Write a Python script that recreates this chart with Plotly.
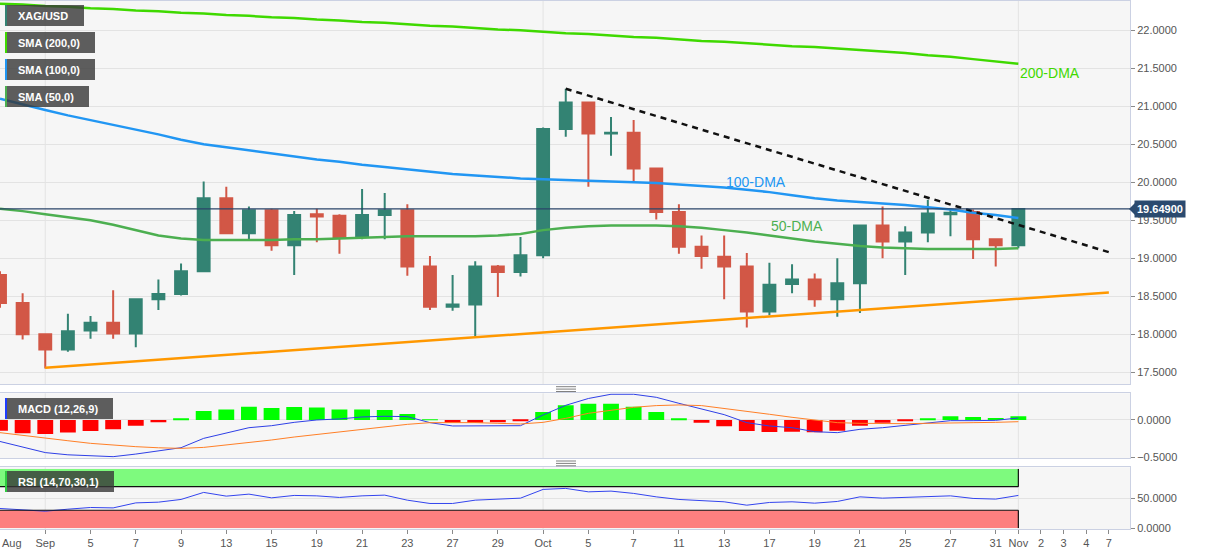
import plotly.graph_objects as go

# ---------------- DATA ----------------
dates = ["2022-08-30", "2022-08-31", "2022-09-01", "2022-09-02", "2022-09-05", "2022-09-06", "2022-09-07",
         "2022-09-08", "2022-09-09", "2022-09-12", "2022-09-13", "2022-09-14", "2022-09-15", "2022-09-16",
         "2022-09-19", "2022-09-20", "2022-09-21", "2022-09-22", "2022-09-23", "2022-09-26", "2022-09-27",
         "2022-09-28", "2022-09-29", "2022-09-30", "2022-10-03", "2022-10-04", "2022-10-05", "2022-10-06",
         "2022-10-07", "2022-10-10", "2022-10-11", "2022-10-12", "2022-10-13", "2022-10-14", "2022-10-17",
         "2022-10-18", "2022-10-19", "2022-10-20", "2022-10-21", "2022-10-24", "2022-10-25", "2022-10-26",
         "2022-10-27", "2022-10-28", "2022-10-31", "2022-11-01"]
future_dates = ["2022-11-02", "2022-11-03", "2022-11-04", "2022-11-07"]

open_ = [18.78, 18.41, 18.00, 17.80, 18.05, 18.15, 18.01, 18.46, 18.53, 18.83,
         19.79, 19.33, 19.63, 19.17, 19.58, 19.56, 19.28, 19.57, 19.63, 18.89,
         18.36, 18.39, 18.89, 18.82, 19.04, 20.70, 21.05, 20.64, 20.65, 20.18,
         19.61, 19.15, 19.02, 18.89, 18.30, 18.66, 18.72, 18.46, 18.67, 19.43,
         19.22, 19.34, 19.58, 19.61, 19.25, 19.17]
high = [18.83, 18.54, 18.00, 18.27, 18.24, 18.58, 18.47, 18.72, 18.93, 20.01,
        19.94, 19.68, 19.65, 19.62, 19.65, 19.58, 19.91, 19.86, 19.71, 19.03,
        18.78, 18.96, 18.91, 19.28, 20.72, 21.23, 21.06, 20.86, 20.82, 20.19,
        19.71, 19.30, 19.30, 19.07, 18.94, 18.92, 18.80, 19.00, 19.44, 19.68,
        19.42, 19.77, 19.65, 19.64, 19.25, 19.65]
low = [18.35, 17.93, 17.55, 17.77, 17.94, 17.94, 17.83, 18.32, 18.51, 18.82,
       19.32, 19.23, 19.10, 18.78, 19.21, 19.06, 19.25, 19.25, 18.77, 18.32,
       18.31, 17.97, 18.49, 18.76, 19.00, 20.60, 19.94, 20.35, 20.00, 19.51,
       19.06, 18.86, 18.46, 18.09, 18.25, 18.54, 18.36, 18.23, 18.28, 19.00,
       18.78, 19.21, 19.29, 18.99, 18.89, 19.13]
close = [18.41, 18.00, 17.80, 18.04, 18.15, 18.01, 18.46, 18.53, 18.83, 19.79,
         19.33, 19.63, 19.17, 19.57, 19.55, 19.28, 19.57, 19.63, 18.89, 18.36,
         18.39, 18.89, 18.82, 19.04, 20.70, 21.05, 20.64, 20.65, 20.18, 19.61,
         19.15, 19.03, 18.89, 18.30, 18.65, 18.72, 18.46, 18.67, 19.43, 19.22,
         19.34, 19.59, 19.60, 19.25, 19.17, 19.649]

sma200 = [22.35, 22.34, 22.32, 22.31, 22.29, 22.28, 22.26, 22.25, 22.23, 22.22,
          22.20, 22.19, 22.17, 22.16, 22.14, 22.13, 22.11, 22.10, 22.08, 22.06,
          22.05, 22.03, 22.01, 22.00, 21.98, 21.96, 21.95, 21.93, 21.91, 21.90,
          21.88, 21.86, 21.85, 21.83, 21.81, 21.79, 21.78, 21.76, 21.74, 21.72,
          21.70, 21.67, 21.65, 21.62, 21.59, 21.56]
sma100 = [21.10, 21.02, 20.95, 20.88, 20.82, 20.75, 20.69, 20.63, 20.56, 20.50,
          20.46, 20.42, 20.38, 20.34, 20.30, 20.27, 20.23, 20.20, 20.17, 20.14,
          20.11, 20.09, 20.07, 20.05, 20.04, 20.03, 20.02, 20.01, 20.00, 19.99,
          19.97, 19.95, 19.93, 19.90, 19.87, 19.83, 19.79, 19.76, 19.74, 19.72,
          19.70, 19.67, 19.64, 19.60, 19.57, 19.53]
sma50 = [19.65, 19.62, 19.58, 19.54, 19.50, 19.44, 19.37, 19.30, 19.26, 19.24,
         19.24, 19.24, 19.24, 19.25, 19.25, 19.26, 19.27, 19.28, 19.29, 19.29,
         19.29, 19.29, 19.30, 19.32, 19.37, 19.40, 19.42, 19.43, 19.43, 19.43,
         19.42, 19.40, 19.37, 19.34, 19.30, 19.26, 19.22, 19.19, 19.16, 19.14,
         19.13, 19.12, 19.12, 19.12, 19.12, 19.13]

# trend lines: (date, value)
support_dates = ["2022-09-01", "2022-11-07"]
support_vals = [17.56, 18.55]
resist_dates = ["2022-10-04", "2022-11-07"]
resist_vals = [21.23, 19.08]

macd_hist = [-0.144, -0.18, -0.19, -0.17, -0.15, -0.126, -0.077, -0.032, 0.02, 0.12,
             0.14, 0.18, 0.16, 0.175, 0.17, 0.14, 0.14, 0.135, 0.08, 0.005,
             -0.036, -0.036, -0.032, -0.014, 0.108, 0.198, 0.22, 0.22, 0.18, 0.108,
             0.02, -0.036, -0.086, -0.149, -0.162, -0.158, -0.167, -0.144, -0.077, -0.036,
             -0.009, 0.022, 0.049, 0.04, 0.027, 0.049]
macd_line = [-0.29, -0.37, -0.44, -0.47, -0.485, -0.495, -0.46, -0.42, -0.374, -0.248,
             -0.171, -0.104, -0.077, -0.032, 0.0, 0.014, 0.041, 0.05, 0.045, -0.036,
             -0.081, -0.081, -0.086, -0.077, 0.068, 0.198, 0.29, 0.347, 0.347, 0.306,
             0.225, 0.144, 0.072, -0.036, -0.081, -0.104, -0.158, -0.171, -0.126, -0.104,
             -0.072, -0.036, -0.009, -0.009, -0.005, 0.027]
macd_signal = [-0.171, -0.21, -0.248, -0.28, -0.315, -0.34, -0.36, -0.375, -0.383, -0.37,
               -0.338, -0.305, -0.27, -0.23, -0.194, -0.158, -0.122, -0.09, -0.059, -0.036,
               -0.032, -0.036, -0.045, -0.054, -0.032, 0.022, 0.09, 0.135, 0.171, 0.194,
               0.203, 0.194, 0.158, 0.122, 0.077, 0.036, 0.0, -0.036, -0.045, -0.05,
               -0.05, -0.045, -0.036, -0.036, -0.032, -0.023]
rsi = [33.0, 30.1, 28.4, 31.8, 34.7, 34.0, 42.5, 43.7, 48.3, 60.2,
       53.9, 57.3, 51.0, 55.1, 54.4, 51.7, 54.4, 55.6, 47.1, 41.5,
       41.5, 47.1, 48.3, 50.5, 65.3, 67.0, 61.2, 62.4, 58.5, 52.7,
       48.3, 46.0, 44.3, 38.6, 43.2, 44.3, 42.0, 44.9, 52.7, 50.5,
       51.7, 53.9, 54.4, 50.0, 48.9, 55.1]
rsi_upper, rsi_lower = 70, 30

tick_dates = ["2022-09-01", "2022-09-05", "2022-09-07", "2022-09-09", "2022-09-13", "2022-09-15",
              "2022-09-19", "2022-09-21", "2022-09-23", "2022-09-27", "2022-09-29", "2022-10-03",
              "2022-10-05", "2022-10-07", "2022-10-11", "2022-10-13", "2022-10-17", "2022-10-19",
              "2022-10-21", "2022-10-25", "2022-10-27", "2022-10-31", "2022-11-01", "2022-11-02",
              "2022-11-03", "2022-11-04", "2022-11-07"]
tick_labels = ["Sep", "5", "7", "9", "13", "15", "19", "21", "23", "27", "29", "Oct",
               "5", "7", "11", "13", "17", "19", "21", "25", "27", "31", "Nov", "2", "3", "4", "7"]
first_label = "Aug"
month_starts = ["2022-09-01", "2022-10-03", "2022-11-01"]

# ---------------- HELPERS ----------------
all_dates = dates + future_dates
pos = {d: i for i, d in enumerate(all_dates)}
xi = [pos[d] for d in dates]

FONT = "Liberation Sans, Arial, sans-serif"
W, H = 1207, 555
PL, PR, PT, PB = 0, 1130, 1, 529  # plot area in px
Y_MAIN = [17.345, 22.385]


def px_x(px):
    return (px - PL) / (PR - PL)


def px_y(py):
    return (PB - py) / (PB - PT)


GREEN_C = "#338373"
RED_C = "#D25746"
C200 = "#3FD900"
C100 = "#2196F3"
C50 = "#4CAF50"
BORDER = "#CBD1E3"
GRID = "#E3E3E3"

fig = go.Figure()

# main candles
fig.add_trace(go.Candlestick(
    x=xi, open=open_, high=high, low=low, close=close,
    increasing=dict(line=dict(color=GREEN_C, width=2), fillcolor=GREEN_C),
    decreasing=dict(line=dict(color=RED_C, width=2), fillcolor=RED_C),
    xaxis="x", yaxis="y", showlegend=False, hoverinfo="skip"))

for vals, col in [(sma200, C200), (sma100, C100), (sma50, C50)]:
    fig.add_trace(go.Scatter(x=xi, y=vals, mode="lines", line=dict(color=col, width=2.5),
                             xaxis="x", yaxis="y", showlegend=False, hoverinfo="skip"))

fig.add_trace(go.Scatter(x=[pos[d] for d in support_dates], y=support_vals, mode="lines",
                         line=dict(color="#FF9800", width=2.5), xaxis="x", yaxis="y",
                         showlegend=False, hoverinfo="skip"))
fig.add_trace(go.Scatter(x=[pos[d] for d in resist_dates], y=resist_vals, mode="lines",
                         line=dict(color="#111111", width=2.5, dash="6px,5px"), xaxis="x", yaxis="y",
                         showlegend=False, hoverinfo="skip"))

# MACD panel
fig.add_trace(go.Bar(x=xi, y=macd_hist, width=0.7,
                     marker=dict(color=["#00FF00" if v >= 0 else "#FF0000" for v in macd_hist],
                                 line=dict(width=0)),
                     xaxis="x2", yaxis="y2", showlegend=False, hoverinfo="skip"))
fig.add_trace(go.Scatter(x=xi, y=macd_line, mode="lines", line=dict(color="#2E3FE6", width=1),
                         xaxis="x2", yaxis="y2", showlegend=False, hoverinfo="skip"))
fig.add_trace(go.Scatter(x=xi, y=macd_signal, mode="lines", line=dict(color="#FF7F27", width=1),
                         xaxis="x2", yaxis="y2", showlegend=False, hoverinfo="skip"))

# RSI panel
fig.add_trace(go.Scatter(x=xi, y=rsi, mode="lines", line=dict(color="#3344EE", width=1),
                         xaxis="x3", yaxis="y3", showlegend=False, hoverinfo="skip"))

xrange = [0, (PR - PL) / 22.63]
dom_main = [px_y(384), 1.0]
dom_macd = [px_y(458), px_y(393.3)]
dom_rsi = [0.0, px_y(467.3)]

ax_common = dict(range=xrange, showgrid=False, zeroline=False, showline=True, mirror=True,
                 linecolor=BORDER, linewidth=1, fixedrange=True)
ay_common = dict(side="right", showline=True, mirror=True, linecolor=BORDER, linewidth=1,
                 gridcolor=GRID, zeroline=False, ticks="outside", ticklen=4, tickcolor="#8a8a8a",
                 tickformat=".4f", tickfont=dict(family=FONT, size=11, color="#555555"))

shapes = []
annotations = []

# month gridlines in all panels
for d in month_starts:
    for xr, yr in [("x", "y domain"), ("x2", "y2 domain"), ("x3", "y3 domain")]:
        shapes.append(dict(type="line", xref=xr, yref=yr, x0=pos[d], x1=pos[d], y0=0, y1=1,
                           line=dict(color=GRID, width=1), layer="below"))

# RSI bands
last = xi[-1]
shapes.append(dict(type="rect", xref="x3", yref="y3", x0=0, x1=last, y0=rsi_upper, y1=100,
                   fillcolor="#7EFA7E", line=dict(width=0), layer="below"))
shapes.append(dict(type="rect", xref="x3", yref="y3", x0=0, x1=last, y0=0, y1=rsi_lower,
                   fillcolor="#FD7F7F", line=dict(width=0), layer="below"))
for (a0, a1, b0, b1) in [(0, last, rsi_upper, rsi_upper), (0, last, rsi_lower, rsi_lower),
                         (last, last, rsi_upper, 100), (last, last, 0, rsi_lower)]:
    shapes.append(dict(type="line", xref="x3", yref="y3", x0=a0, x1=a1, y0=b0, y1=b1,
                       line=dict(color="#111111", width=1.2)))

# current price line
shapes.append(dict(type="line", xref="x domain", yref="y", x0=0, x1=1, y0=close[-1], y1=close[-1],
                   line=dict(color="#2A4468", width=1.2)))

# label boxes (top-left)
boxes = [("XAG/USD", 5, 84, 5, 26, GREEN_C),
         ("SMA (200,0)", 5, 95, 32, 53, C200),
         ("SMA (100,0)", 5, 95, 59, 80, C100),
         ("SMA (50,0)", 5, 89, 86, 107, C50),
         ("MACD (12,26,9)", 5, 113, 398, 419, "#1E3CFF"),
         ("RSI (14,70,30,1)", 5, 114, 471, 492, "#2ECC40")]
for text, x0, x1, y0, y1, sc in boxes:
    shapes.append(dict(type="rect", xref="paper", yref="paper", x0=px_x(x0), x1=px_x(x1),
                       y0=px_y(y1), y1=px_y(y0), fillcolor="rgba(55,55,55,0.8)", line=dict(width=0)))
    shapes.append(dict(type="rect", xref="paper", yref="paper", x0=px_x(x0), x1=px_x(x0 + 2),
                       y0=px_y(y1), y1=px_y(y0), fillcolor=sc, line=dict(width=0)))
    annotations.append(dict(text=text, xref="paper", yref="paper", x=px_x(x0 + 11),
                            y=px_y((y0 + y1) / 2), xanchor="left", yanchor="middle", showarrow=False,
                            font=dict(family=FONT, size=11, color="white", weight="bold")))

# pane separators (grips)
for base in (386.7, 461.0):
    for k in range(3):
        yy = px_y(base + 2.4 * k)
        shapes.append(dict(type="line", xref="paper", yref="paper", x0=px_x(556), x1=px_x(576),
                           y0=yy, y1=yy, line=dict(color="#808080", width=1)))

# price tag
annotations.append(dict(text="<b>19.64900</b>", xref="paper", yref="y", x=px_x(1134), y=close[-1],
                        xanchor="left", yanchor="middle", showarrow=False, bgcolor="#2B4A6F",
                        borderpad=2, font=dict(family=FONT, size=11, color="white")))
dy = 6 * (Y_MAIN[1] - Y_MAIN[0]) / 383.0
shapes.append(dict(type="path", xref="paper", yref="y",
                   path=f"M {px_x(1129)} {close[-1]} L {px_x(1135)} {close[-1] + dy} "
                        f"L {px_x(1135)} {close[-1] - dy} Z",
                   fillcolor="#2B4A6F", line=dict(width=0)))

# DMA labels
annotations.append(dict(text="200-DMA", xref="x", yref="y", x=xi[-1], y=sma200[-1], yshift=-9,
                        xanchor="left", yanchor="middle", showarrow=False,
                        font=dict(family=FONT, size=14, color=C200)))
annotations.append(dict(text="100-DMA", xref="x", yref="y", x=pos["2022-10-13"], y=20.0,
                        xanchor="left", yanchor="middle", showarrow=False,
                        font=dict(family=FONT, size=14, color=C100)))
annotations.append(dict(text="50-DMA", xref="x", yref="y", x=pos["2022-10-17"], y=19.42,
                        xanchor="left", yanchor="middle", showarrow=False,
                        font=dict(family=FONT, size=14, color=C50)))
# first (partial-month) axis label
annotations.append(dict(text=first_label, xref="paper", yref="paper", x=0, y=px_y(543),
                        xanchor="left", yanchor="middle", showarrow=False,
                        font=dict(family=FONT, size=11, color="#555555")))

fig.update_layout(
    width=W, height=H,
    margin=dict(l=PL, r=W - PR, t=PT, b=H - PB),
    paper_bgcolor="white", plot_bgcolor="#F6F6F6",
    boxgap=0.25, bargap=0.3,
    showlegend=False,
    font=dict(family=FONT, size=11, color="#555555"),
    xaxis=dict(ax_common, anchor="y", showticklabels=False, rangeslider=dict(visible=False)),
    xaxis2=dict(ax_common, anchor="y2", showticklabels=False),
    xaxis3=dict(ax_common, anchor="y3", ticks="outside", ticklen=4, tickcolor="#8a8a8a",
                tickvals=[pos[d] for d in tick_dates], ticktext=tick_labels,
                tickfont=dict(family=FONT, size=11, color="#555555")),
    yaxis=dict(ay_common, domain=dom_main, anchor="x", range=Y_MAIN, dtick=0.5,
               tick0=17.5),
    yaxis2=dict(ay_common, domain=dom_macd, anchor="x2", range=[-0.513, 0.36], tickvals=[-0.5, 0.0]),
    yaxis3=dict(ay_common, domain=dom_rsi, anchor="x3", range=[-1.7, 102.7], tickvals=[0, 50]),
    shapes=shapes, annotations=annotations,
)

fig.write_html("out.html", config={"displayModeBar": False},
               post_script="document.body.style.margin='0px';document.body.style.overflow='hidden';")
